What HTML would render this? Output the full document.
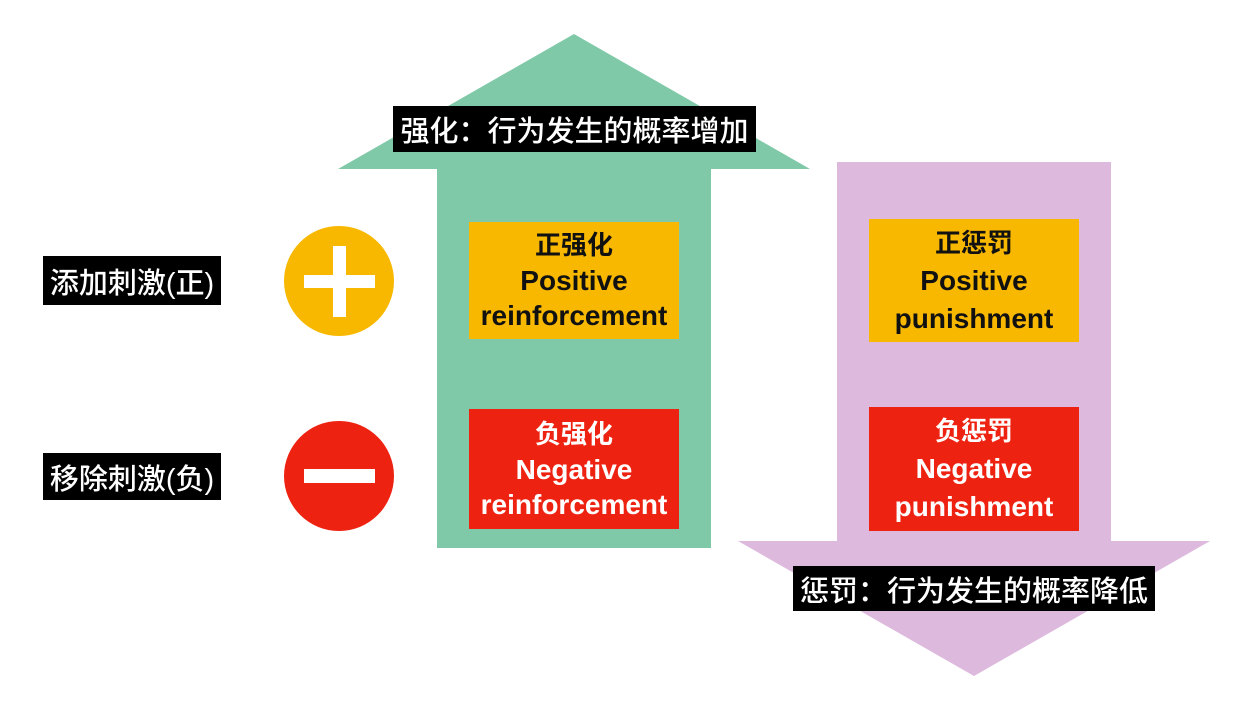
<!DOCTYPE html>
<html><head><meta charset="utf-8"><style>
body{margin:0;width:1246px;height:705px;background:#fff;position:relative;overflow:hidden;font-family:"Liberation Sans","Noto Sans CJK SC",sans-serif}
.a{position:absolute}
.lab{position:absolute;background:#000;color:#fff;font-size:29px;display:flex;align-items:center;justify-content:center;font-weight:500;white-space:nowrap}
.box{position:absolute;display:flex;flex-direction:column;align-items:center;justify-content:center;text-align:center;font-weight:bold;font-size:28px;line-height:35px;white-space:nowrap}
.box div:first-child{font-size:26px}
.y{background:#f8b800;color:#111}
.r{background:#ee2211;color:#fff}
</style></head><body>
<svg class="a" style="left:0;top:0" width="1246" height="705">
<polygon points="574,34 810,169 711,169 711,548 437,548 437,169 338,169" fill="#80c9a8"/>
<polygon points="837,162 1111,162 1111,541 1210,541 974,676 738,541 837,541" fill="#ddb9dd"/>
<circle cx="339" cy="281" r="55" fill="#f8b800"/>
<rect x="304" y="275" width="71" height="13" fill="#fff"/>
<rect x="333" y="246" width="13" height="71" fill="#fff"/>
<circle cx="339" cy="476" r="55" fill="#ee2211"/>
<rect x="304" y="469" width="71" height="14" fill="#fff"/>
</svg>
<div class="lab" style="left:393px;top:106px;width:363px;height:46px">强化：行为发生的概率增加</div>
<div class="lab" style="left:793px;top:566px;width:362px;height:45px">惩罚：行为发生的概率降低</div>
<div class="lab" style="left:43px;top:256px;width:178px;height:49px">添加刺激(正)</div>
<div class="lab" style="left:43px;top:453px;width:178px;height:47px">移除刺激(负)</div>
<div class="box y" style="left:469px;top:222px;width:210px;height:117px"><div>正强化</div><div>Positive</div><div>reinforcement</div></div>
<div class="box r" style="left:469px;top:409px;width:210px;height:120px"><div>负强化</div><div>Negative</div><div>reinforcement</div></div>
<div class="box y" style="left:869px;top:219px;width:210px;height:123px;line-height:38px"><div>正惩罚</div><div>Positive</div><div>punishment</div></div>
<div class="box r" style="left:869px;top:407px;width:210px;height:124px;line-height:38px"><div>负惩罚</div><div>Negative</div><div>punishment</div></div>
</body></html>
